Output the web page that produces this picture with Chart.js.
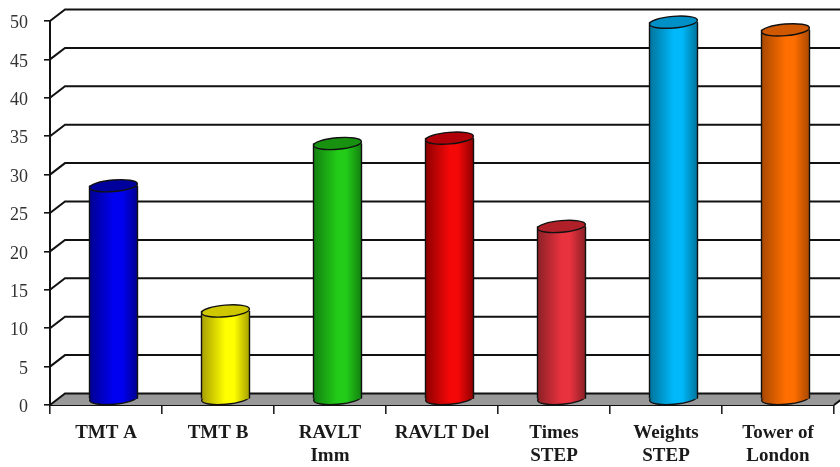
<!DOCTYPE html>
<html lang="en">
<head>
    <meta charset="UTF-8">
    <title>Cognitive tests</title>
    <script src="https://cdn.jsdelivr.net/npm/chart.js"></script>
    <style>
        body { margin: 0; background: #fff; overflow: hidden; }
        #wrap { width: 840px; height: 467px; }
        canvas { filter: blur(0.6px); }
    </style>
</head>
<body>
    <div id="wrap"><canvas id="barChart"></canvas></div>

    <script>
        const categories = [['TMT A'], ['TMT B'], ['RAVLT', 'Imm'], ['RAVLT Del'], ['Times', 'STEP'], ['Weights', 'STEP'], ['Tower of', 'London']];
        const values = [27.8, 11.5, 33.3, 34, 22.5, 49.1, 48.1];
        const yTicks = [0, 5, 10, 15, 20, 25, 30, 35, 40, 45, 50];

        const sideColors = ['#0000f0', '#ffff00', '#22cc18', '#f40808', '#e8323e', '#00b8fa', '#ff6e00'];
        const edgeColors = ['#000090', '#a8a000', '#138010', '#8e0000', '#8c2026', '#00749c', '#a84800'];
        const topColors = ['#00009c', '#cfc800', '#189010', '#b00008', '#b02028', '#0090c8', '#d05800'];

        // fake 3D depth of the plot box
        const depthX = 15, depthY = 11.5;
        const radiusY = 5.8, tilt = -0.085;

        function sideGradient(context) {
            const i = context.dataIndex;
            if (i === undefined) return sideColors[0];
            const chart = context.chart;
            const x = chart.scales.x.getPixelForValue(i);
            if (!isFinite(x)) return sideColors[i];
            const g = chart.ctx.createLinearGradient(x - 24, 0, x + 24, 0);
            g.addColorStop(0, edgeColors[i]);
            g.addColorStop(0.5, sideColors[i]);
            g.addColorStop(0.68, sideColors[i]);
            g.addColorStop(1, edgeColors[i]);
            return g;
        }

        function ellipse(ctx, x, y, rx, fill) {
            ctx.beginPath();
            ctx.ellipse(x, y, rx, radiusY, tilt, 0, Math.PI * 2);
            ctx.fillStyle = fill;
            ctx.fill();
            ctx.lineWidth = 1.4;
            ctx.strokeStyle = '#111';
            ctx.stroke();
        }

        const box3d = {
            id: 'box3d',
            beforeDatasetsDraw(chart) {
                const { ctx, chartArea: a, scales: { y } } = chart;
                ctx.save();
                // floor
                ctx.beginPath();
                ctx.moveTo(a.left, a.bottom);
                ctx.lineTo(a.left + depthX, a.bottom - depthY);
                ctx.lineTo(a.right + depthX, a.bottom - depthY);
                ctx.lineTo(a.right, a.bottom);
                ctx.closePath();
                ctx.fillStyle = '#999999';
                ctx.fill();
                // back wall lines with the slanted piece on the left wall
                ctx.strokeStyle = '#111';
                ctx.lineWidth = 2;
                yTicks.forEach(t => {
                    const py = y.getPixelForValue(t);
                    ctx.beginPath();
                    ctx.moveTo(a.left, py);
                    ctx.lineTo(a.left + depthX, py - depthY);
                    ctx.lineTo(a.right + depthX, py - depthY);
                    ctx.stroke();
                });
                ctx.beginPath();
                ctx.moveTo(a.right, a.bottom);
                ctx.lineTo(a.right + depthX, a.bottom - depthY);
                ctx.stroke();
                ctx.restore();
            },
            beforeDatasetDraw(chart, args) {
                const ctx = chart.ctx;
                ctx.save();
                ctx.translate(depthX / 2, -depthY / 2);
                args.meta.data.forEach(bar => {
                    ellipse(ctx, bar.x, bar.base, bar.width / 2, bar.options.backgroundColor);
                });
            },
            afterDatasetDraw(chart, args) {
                const ctx = chart.ctx;
                args.meta.data.forEach((bar, i) => {
                    const r = bar.width / 2;
                    ctx.strokeStyle = '#111';
                    ctx.lineWidth = 1.4;
                    ctx.beginPath();
                    ctx.moveTo(bar.x - r, bar.y);
                    ctx.lineTo(bar.x - r, bar.base);
                    ctx.moveTo(bar.x + r, bar.y);
                    ctx.lineTo(bar.x + r, bar.base);
                    ctx.stroke();
                    ellipse(ctx, bar.x, bar.y, r, topColors[i]);
                });
                ctx.restore();
            }
        };

        new Chart(document.getElementById('barChart'), {
            type: 'bar',
            data: {
                labels: categories,
                datasets: [{
                    data: values,
                    backgroundColor: sideGradient,
                    borderWidth: 0,
                    barThickness: 48,
                    clip: false
                }]
            },
            options: {
                responsive: true,
                maintainAspectRatio: false,
                animation: false,
                layout: { padding: { top: 21, right: 6, left: 0, bottom: 0 } },
                plugins: { legend: { display: false }, tooltip: { enabled: false } },
                scales: {
                    x: {
                        afterFit(scale) { scale.height = 62; },
                        border: { color: '#111', width: 2 },
                        grid: { drawOnChartArea: false, color: '#222', lineWidth: 1.6, tickLength: 9, offset: true },
                        ticks: {
                            color: '#1a1a1a',
                            maxRotation: 0,
                            autoSkip: false,
                            padding: 8,
                            font: { family: '"Liberation Serif"', size: 19, weight: 'bold', lineHeight: 1.21 }
                        }
                    },
                    y: {
                        min: 0,
                        max: 50,
                        afterFit(scale) { scale.width = 50; },
                        border: { color: '#111', width: 2 },
                        grid: { drawOnChartArea: false, color: '#111', lineWidth: 1.6, tickLength: 6 },
                        ticks: {
                            stepSize: 5,
                            color: '#333',
                            padding: 16,
                            // empty first line + short line height nudges the numbers down a little
                            callback: v => ['', String(v)],
                            font: { family: '"Liberation Serif"', size: 18, lineHeight: '5px' }
                        }
                    }
                }
            },
            plugins: [box3d]
        });
    </script>
</body>
</html>
